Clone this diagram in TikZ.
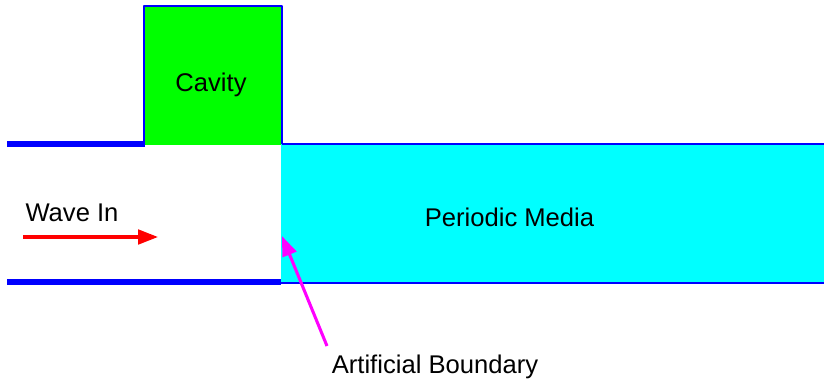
\documentclass[tikz,border=0pt]{standalone}
\usepackage{fontspec}
\setmainfont{Liberation Sans}
\usetikzlibrary{positioning,arrows.meta}
\definecolor{cavitygreen}{RGB}{0,255,0}
\definecolor{mediacyan}{RGB}{0,255,255}
\definecolor{wallblue}{RGB}{0,0,255}
\definecolor{wavered}{RGB}{255,0,0}
\definecolor{boundmagenta}{RGB}{255,0,255}

\begin{document}
\begin{tikzpicture}[x=0.75pt,y=-0.75pt,
    wall/.style={draw=wallblue, line width=3.8pt},
    thinwall/.style={draw=wallblue, line width=2pt, line join=round},
    lbl/.style={font=\fontsize{19.2}{23}\selectfont, inner sep=0pt, anchor=base},
    pointer/.style={line width=2.3pt, -{Triangle[length=15pt,width=11pt]}}]
    \useasboundingbox (0,0) rectangle (824,382);
    % Cavity
    \fill[cavitygreen] (144,6) rectangle (282,145);
    \draw[thinwall] (144,145) -- (144,6) -- (282,6) -- (282,145);
    \node[lbl] (cavity) at (211,91) {Cavity};

    % Periodic media
    \fill[mediacyan] (281,144) rectangle (824,283);
    \draw[thinwall] (282,144) -- (824,144);
    \draw[thinwall] (281,283) -- (824,283);
    \node[lbl] (media) at (509.5,226) {Periodic Media};

    % Waveguide walls
    \draw[wall] (7,144) -- (145,144);
    \draw[wall] (7,282) -- (281,282);

    % Incoming wave
    \node[lbl] (wavein) at (72,221) {Wave In};
    \coordinate (wavestart) at (23,237);
    \coordinate (waveend) at (158,237);
    \draw[pointer, wavered] (wavestart) -- (waveend);

    % Artificial boundary
    \node[lbl] (boundary) at (435,373) {Artificial Boundary};
    \coordinate (tail) at (327,346);
    \coordinate (tip) at (282,236);
    \draw[pointer, boundmagenta] (tail) -- (tip);
\end{tikzpicture}
\end{document}
